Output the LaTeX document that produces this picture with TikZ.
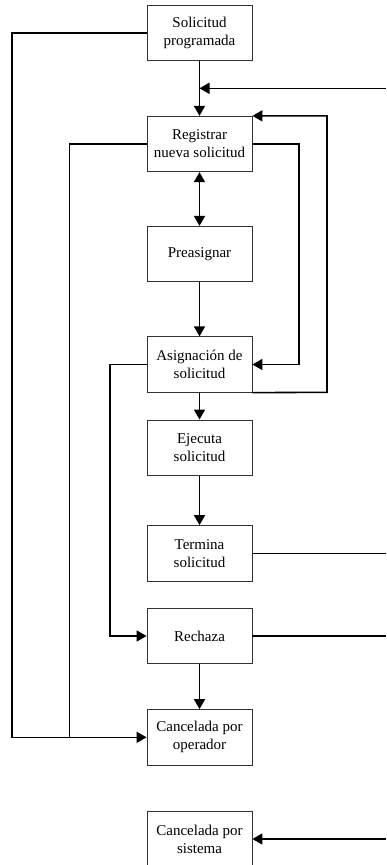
\documentclass[tikz,border=0pt]{standalone}
\usepackage{fontspec}
\setmainfont{Liberation Serif}
\usetikzlibrary{arrows.meta}
\begin{document}
\begin{tikzpicture}[x=1pt,y=-1pt,
  box/.style={draw=black!80, line width=0.8pt, fill=white, minimum width=105pt, minimum height=55.5pt,
    inner sep=1pt, align=center, font=\fontsize{15pt}{18pt}\selectfont},
  conn/.style={line width=1.6pt, draw=black},
  tip/.style={Triangle[length=10pt,width=11pt]},
  arr/.style={conn, -{Triangle[length=10pt,width=11pt]}},
  darr/.style={conn, {Triangle[length=10pt,width=11pt]}-{Triangle[length=10pt,width=11pt]}}]
\useasboundingbox (0,0) rectangle (386,865);
\node[box] (b1) at (199.5,33) {Solicitud\\programada};
\node[box] (b2) at (199.5,144) {Registrar\\nueva solicitud};
\node[box] (b3) at (199.5,254) {Preasignar};
\node[box] (b4) at (199.5,364.5) {Asignación de\\solicitud};
\node[box] (b5) at (199.5,447.7) {Ejecuta\\solicitud};
\node[box] (b6) at (199.5,553.3) {Termina\\solicitud};
\node[box] (b7) at (199.5,636) {Rechaza};
\node[box] (b8) at (199.5,737.3) {Cancelada por\\operador};
\node[box] (b9) at (199.5,839) {Cancelada por\\sistema};
\coordinate (R1) at (386,88.3);
\coordinate (R2) at (386,553.3);
\coordinate (R3) at (386,636);
\coordinate (R4) at (386,839);
\coordinate (L1) at (12,33);
\coordinate (L2) at (69.5,144);
\coordinate (L3) at (110,364.5);
\coordinate (C1) at (327,392.3);
\coordinate (C2) at (299,144);
% left outer loop
\draw[arr] (b1.west) -- (L1) |- (b8.west);
\draw[conn] (b2.west) -- (L2) -- (L2 |- b8.west);
\draw[arr] (b4.west) -- (L3) |- (b7.west);
% main vertical
\draw[arr] (b1.south) -- (b2.north);
\draw[arr] (R1) -- (R1 -| b1.south);
\draw[darr] (b2.south) -- (b3.north);
\draw[arr] (b3.south) -- (b4.north);
\draw[arr] (b4.south) -- (b5.north);
\draw[arr] (b5.south) -- (b6.north);
\draw[arr] (b7.south) -- (b8.north);
% right loops
\draw[arr] (b2.east) -- (C2) |- (b4.east);
\draw[arr] (b4.south east) -- (C1) |- (b2.north east);
% right exits
\draw[conn] (b6.east) -- (R2);
\draw[conn] (b7.east) -- (R3);
\draw[arr] (R4) -- (b9.east);
\end{tikzpicture}
\end{document}
